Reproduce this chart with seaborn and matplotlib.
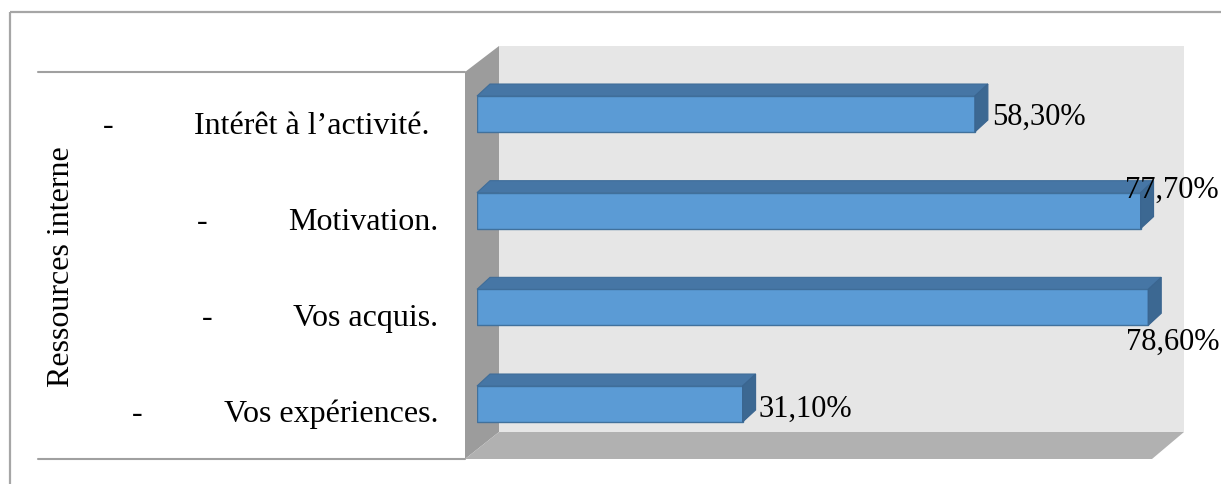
import matplotlib
matplotlib.use("Agg")
import matplotlib.pyplot as plt
from matplotlib.patches import Polygon
from matplotlib.transforms import ScaledTranslation
import seaborn as sns
import pandas as pd

# Internal resources survey data (percent of respondents)
categories = ["Intérêt à l’activité.", "Motivation.", "Vos acquis.", "Vos expériences."]
values = [58.3, 77.7, 78.6, 31.1]
axis_title = "Ressources interne"

sns.set_theme(style="white")
plt.rcParams["font.family"] = ["Liberation Serif", "DejaVu Serif"]
FS = 23
FS_VAL = 22

W, H, DPI = 1221, 485, 100
fig = plt.figure(figsize=(W / DPI, H / DPI), dpi=DPI)

# Background layer in pixel coordinates: frame, table rules and the 3D box walls
bg = fig.add_axes([0, 0, 1, 1])
bg.set_xlim(0, W)
bg.set_ylim(H, 0)
bg.axis("off")
frame_c = "#a6a6a6"
bg.plot([10, W], [13, 13], color=frame_c, lw=1.6, solid_capstyle="butt")
bg.plot([10, 10], [13, H], color=frame_c, lw=1.6, solid_capstyle="butt")
bg.plot([38, 465], [73, 73], color="#a0a0a0", lw=1.5)
bg.plot([38, 465], [459.5, 459.5], color="#a0a0a0", lw=1.5)
bg.add_patch(Polygon([(499, 47), (1184, 47), (1184, 433), (499, 433)],
                     closed=True, facecolor="#e6e6e6", edgecolor="none"))
bg.add_patch(Polygon([(465, 73), (499, 47), (499, 433), (465, 460)],
                     closed=True, facecolor="#9c9c9c", edgecolor="none"))
bg.add_patch(Polygon([(465, 460), (499, 433), (1184, 433), (1152, 460)],
                     closed=True, facecolor="#b1b1b1", edgecolor="none"))

# Bar axes (front plane of the 3D box)
x0_px, x1_px, top_px, bot_px = 477, 1152, 73, 460
px_per_unit_x = 8.54
ax = fig.add_axes([x0_px / W, (H - bot_px) / H, (x1_px - x0_px) / W, (bot_px - top_px) / H])
ax.patch.set_alpha(0)

df = pd.DataFrame({"cat": categories, "val": values})
sns.barplot(data=df, x="val", y="cat", orient="h", width=0.372,
            color="#5b9bd5", saturation=1, edgecolor="#41719c", linewidth=1.0, ax=ax)

xmax = (x1_px - x0_px) / px_per_unit_x
ax.set_xlim(0, xmax)
cat_px = 96.67
ax.set_ylim(3 + (bot_px - 405) / cat_px, -(115 - top_px) / cat_px)
for s in ax.spines.values():
    s.set_visible(False)
ax.set_xticks([])
ax.set_xlabel("")
ax.set_ylabel("")
ax.tick_params(axis="y", length=0, pad=(x0_px - 438) * 0.72, labelsize=FS)
label_shift_px = [(-8, 8), (0, 7), (0, 7), (0, 6)]
for lbl, (sx, sy) in zip(ax.get_yticklabels(), label_shift_px):
    lbl.set_fontsize(FS)
    lbl.set_color("black")
    lbl.set_transform(lbl.get_transform() + ScaledTranslation(sx / 100, -sy / 100, fig.dpi_scale_trans))

# Depth faces (top and right side) for each bar
dx = 13 / px_per_unit_x
dy = 12 / cat_px
for p in ax.patches:
    x, y, w, h = p.get_x(), p.get_y(), p.get_width(), p.get_height()
    y_top = min(y, y + h)
    y_bot = max(y, y + h)
    top = Polygon([(x, y_top), (x + dx, y_top - dy), (x + w + dx, y_top - dy), (x + w, y_top)],
                  closed=True, facecolor="#4676a5", edgecolor="#3f6d99", lw=0.8, clip_on=False)
    side = Polygon([(x + w, y_top), (x + w + dx, y_top - dy), (x + w + dx, y_bot - dy), (x + w, y_bot)],
                   closed=True, facecolor="#3c6892", edgecolor="#3a6590", lw=0.8, clip_on=False)
    ax.add_patch(top)
    ax.add_patch(side)

# Value labels: short bars get the label after the bar end; long bars get it
# right-aligned against the chart edge, above or below the bar
placements = [("left", 17, 2), ("right", 78, -21), ("right", 71, 34), ("left", 16, 4)]
for i, v in enumerate(values):
    txt = f"{v:.2f}".replace(".", ",") + "%"
    ha, ox, oy = placements[i]
    ax.annotate(txt, xy=(v, i), xytext=(ox * 0.72, -oy * 0.72), textcoords="offset points",
                ha=ha, va="center", fontsize=FS_VAL, color="black", annotation_clip=False)

fig.text(62 / W, 1 - 267 / H, axis_title, rotation=90, ha="center", va="center",
         fontsize=FS, color="black")

# Bullet dashes in front of each category label
fig.canvas.draw()
renderer = fig.canvas.get_renderer()
for lbl in ax.get_yticklabels():
    bb = lbl.get_window_extent(renderer)
    cx = bb.x0 - 86
    cy = (bb.y0 + bb.y1) / 2
    fig.text(cx / W, cy / H, "-", ha="center", va="center", fontsize=FS, color="black")

fig.savefig("out.png", dpi=DPI)
